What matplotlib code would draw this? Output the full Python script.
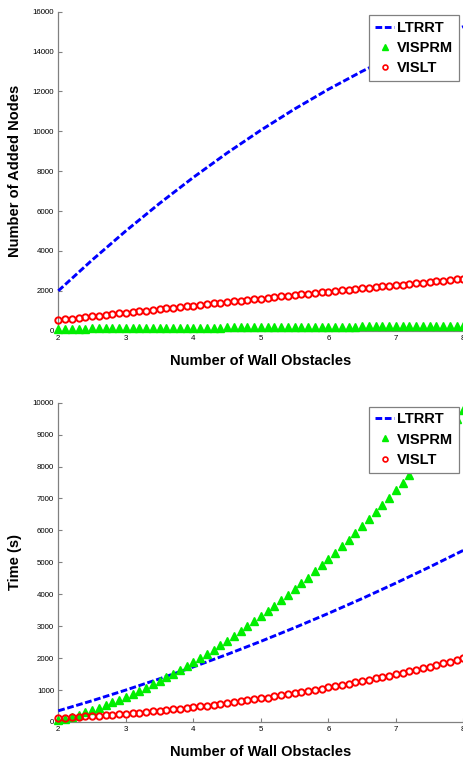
import numpy as np
import matplotlib.pyplot as plt
from matplotlib.lines import Line2D

plt.rcParams['font.family'] = ['Liberation Sans', 'DejaVu Sans']

# number of wall obstacles (sampling grid)
walls = np.linspace(2, 8, 61)
walls_coarse = np.linspace(2, 8, 13)

# added nodes
nodes_ltrrt = [2000, 3541, 5003, 6385, 7688, 8911, 10055, 11119, 12104,
               13009, 13835, 14581, 15248]
nodes_visprm = [100, 102, 105, 108, 110, 112, 115, 118, 120, 122, 125, 128,
                130, 132, 135, 138, 140, 142, 145, 148, 150, 152, 155, 158,
                160, 162, 165, 168, 170, 172, 175, 178, 180, 182, 185, 188,
                190, 192, 195, 198, 200, 202, 205, 208, 210, 212, 215, 218,
                220, 222, 225, 228, 230, 232, 235, 238, 240, 242, 245, 248, 250]
nodes_vislt = [530, 568, 605, 643, 680, 718, 755, 792, 829, 866, 902, 939,
               976, 1012, 1048, 1085, 1121, 1157, 1193, 1228, 1264, 1300,
               1335, 1370, 1406, 1441, 1476, 1511, 1545, 1580, 1615, 1649,
               1683, 1718, 1752, 1786, 1820, 1853, 1887, 1921, 1954, 1987,
               2021, 2054, 2087, 2120, 2152, 2185, 2218, 2250, 2283, 2315,
               2347, 2379, 2411, 2443, 2474, 2506, 2537, 2569, 2600]

# run time in seconds
time_ltrrt = [350, 665, 1000, 1353, 1725, 2115, 2525, 2953, 3400, 3865,
              4350, 4853, 5375]
time_visprm = [50, 108, 169, 234, 303, 375, 450, 529, 611, 696, 786, 878,
               975, 1074, 1177, 1284, 1394, 1508, 1625, 1746, 1870, 1998,
               2129, 2264, 2402, 2544, 2690, 2839, 2991, 3147, 3307, 3470,
               3637, 3807, 3981, 4159, 4340, 4524, 4713, 4905, 5100, 5299,
               5502, 5708, 5918, 6131, 6348, 6569, 6794, 7022, 7253, 7488,
               7727, 7970, 8216, 8466, 8719, 8977, 9237, 9502, 9770]
time_vislt = [130, 140, 150, 161, 173, 186, 199, 213, 228, 244, 260, 277,
              295, 313, 332, 352, 373, 394, 416, 439, 462, 486, 511, 537,
              563, 590, 618, 646, 675, 705, 736, 767, 799, 832, 866, 900,
              935, 971, 1007, 1044, 1082, 1121, 1160, 1200, 1241, 1282,
              1324, 1367, 1411, 1455, 1500, 1546, 1592, 1639, 1687, 1736,
              1785, 1835, 1886, 1938, 1990]

blue = '#0000ff'
green = '#00ee00'
red = '#ff0000'
grey = '#808080'
dash = (0, (2.3, 0.9))

fig = plt.figure(figsize=(4.64, 7.58), dpi=100)
ax1 = fig.add_axes([0.1256, 0.5637, 0.873, 0.4209])
ax2 = fig.add_axes([0.1256, 0.0475, 0.873, 0.4213])


def draw(ax, ltrrt, visprm, vislt, ymax, ystep, ylabel, legend_top):
    ax.plot(walls_coarse, ltrrt, color=blue, lw=2.1, ls=dash,
            clip_on=False, zorder=3)
    ax.plot(walls, visprm, ls='none', marker='^', ms=5.5, color=green,
            mec=green, clip_on=False, zorder=4)
    ax.plot(walls, vislt, ls='none', marker='o', ms=4.6, mfc='none',
            mec=red, mew=1.4, clip_on=False, zorder=5)

    ax.set_xlim(2, 8)
    ax.set_ylim(0, ymax)
    ax.set_xticks(range(2, 9))
    ax.set_yticks(np.arange(0, ymax + 1, ystep))
    for s in ['top', 'right']:
        ax.spines[s].set_visible(False)
    for s in ['left', 'bottom']:
        ax.spines[s].set_color(grey)
        ax.spines[s].set_linewidth(0.9)
    ax.tick_params(direction='in', length=3, width=0.8, color=grey,
                   labelsize=5.7, pad=3)

    ax.set_xlabel('Number of Wall Obstacles', fontsize=10.5, fontweight='bold')
    ax.set_ylabel(ylabel, fontsize=10.5, fontweight='bold')
    ax.xaxis.set_label_coords(0.5, -0.073)
    ax.yaxis.set_label_coords(-0.09, 0.5)

    handles = [
        Line2D([], [], color=blue, lw=2.1, ls=dash),
        Line2D([], [], ls='none', marker='^', ms=4, color=green),
        Line2D([], [], ls='none', marker='o', ms=3.5, mfc='none', mec=red,
               mew=1.2),
    ]
    leg = ax.legend(handles, ['LTRRT', 'VISPRM', 'VISLT'],
                    loc='upper right', bbox_to_anchor=(0.99, legend_top),
                    borderaxespad=0, fancybox=False, framealpha=1,
                    handlelength=1.35, handletextpad=0.2, labelspacing=0.42,
                    borderpad=0.4, prop={'size': 10.5, 'weight': 'bold'})
    leg.get_frame().set_edgecolor(grey)
    leg.get_frame().set_linewidth(0.9)
    leg.set_zorder(10)


draw(ax1, nodes_ltrrt, nodes_visprm, nodes_vislt, 16000, 2000,
     'Number of Added Nodes', 0.9897)
draw(ax2, time_ltrrt, time_visprm, time_vislt, 10000, 1000,
     'Time (s)', 0.9875)

plt.savefig('out.png', dpi=100)
